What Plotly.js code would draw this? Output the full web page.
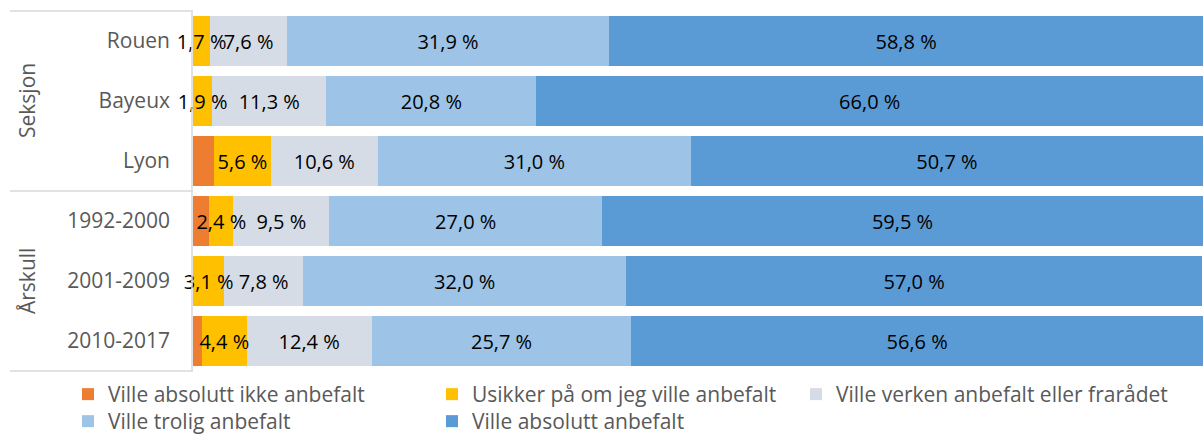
<!DOCTYPE html>
<html><head><meta charset="utf-8">
<script src="https://cdn.plot.ly/plotly-3.0.1.min.js"></script>
<style>body{margin:0;background:#fff}#chart{width:1203px;height:439px}</style>
</head><body><div id="chart"></div>
<script>
const categories = ['Rouen', 'Bayeux', 'Lyon', '1992-2000', '2001-2009', '2010-2017'];
const groupLabels = ['Seksjon', 'Årskull'];
const seriesNames = ['Ville absolutt ikke anbefalt', 'Usikker på om jeg ville anbefalt', 'Ville verken anbefalt eller frarådet', 'Ville trolig anbefalt', 'Ville absolutt anbefalt'];
const absoluttIkke = [0, 0, 2.1, 1.6, 0, 0.9];
const usikker = [1.7, 1.9, 5.6, 2.4, 3.1, 4.4];
const verken = [7.6, 11.3, 10.6, 9.5, 7.8, 12.4];
const trolig = [31.9, 20.8, 31.0, 27.0, 32.0, 25.7];
const absolutt = [58.8, 66.0, 50.7, 59.5, 57.0, 56.6];

const colors = ['#ED7D31', '#FFC000', '#D6DCE5', '#9DC3E6', '#5B9BD5'];
const seriesValues = [absoluttIkke, usikker, verken, trolig, absolutt];
const showLabels = [false, true, true, true, true];
const legendOf = ['legend', 'legend', 'legend', 'legend2', 'legend2'];
const legendWidths = [319, 319, 360, 319, 319];
const FONT = '"Open Sans", "Liberation Sans", sans-serif';
const W = 1203, H = 439, L = 193, T = 11, B = 68;
const PH = H - T - B;

const fmt = v => v.toFixed(1).replace('.', ',') + ' %';

const barTraces = seriesValues.map((vals, i) => ({
  type: 'bar', orientation: 'h', name: seriesNames[i],
  y: categories, x: vals,
  marker: {color: colors[i]},
  legend: legendOf[i], legendwidth: legendWidths[i],
  hoverinfo: 'none'
}));

// transparent overlay traces carrying the labels so they sit above every segment
const labelTraces = seriesValues.map((vals, i) => ({
  type: 'bar', orientation: 'h', name: seriesNames[i],
  y: categories, x: vals, xaxis: 'x2', yaxis: 'y',
  marker: {color: 'rgba(0,0,0,0)'},
  text: showLabels[i] ? vals.map(fmt) : vals.map(() => ''),
  textposition: 'inside', insidetextanchor: 'middle',
  textangle: 0, constraintext: 'none',
  textfont: {color: '#000000', size: 20, family: FONT},
  showlegend: false, hoverinfo: 'none', cliponaxis: false
}));

const px = x => x / W;
const py = y => 1 - (y - T) / PH;
const lineStyle = {color: '#D9D9D9', width: 1.5};
const legendCommon = {
  orientation: 'h', xanchor: 'left', yanchor: 'top',
  entrywidthmode: 'pixels', itemwidth: 30, traceorder: 'normal',
  bgcolor: 'rgba(0,0,0,0)',
  font: {size: 21, color: '#595959', family: FONT}
};

const layout = {
  width: W, height: H,
  margin: {l: 0, r: 0, t: T, b: B, autoexpand: false},
  paper_bgcolor: '#ffffff', plot_bgcolor: '#ffffff',
  font: {family: FONT, color: '#595959'},
  barmode: 'stack', bargap: 1/6,
  xaxis: {domain: [L / W, 1], range: [0, 100], visible: false, fixedrange: true},
  xaxis2: {overlaying: 'x', range: [0, 100], visible: false, fixedrange: true},
  yaxis: {
    autorange: 'reversed', type: 'category',
    tickfont: {size: 21, color: '#595959', family: FONT},
    ticks: '', ticklabelstandoff: 22, showline: false, showgrid: false, zeroline: false
  },
  showlegend: true,
  legend: Object.assign({}, legendCommon, {x: px(68), y: py(374)}),
  legend2: Object.assign({}, legendCommon, {x: px(68), y: py(401)}),
  shapes: [
    {type: 'line', xref: 'paper', yref: 'paper', x0: px(10), x1: px(193), y0: py(11), y1: py(11), line: lineStyle},
    {type: 'line', xref: 'paper', yref: 'paper', x0: px(10), x1: px(193), y0: py(191), y1: py(191), line: lineStyle},
    {type: 'line', xref: 'paper', yref: 'paper', x0: px(10), x1: px(193), y0: py(371), y1: py(371), line: lineStyle},
    {type: 'line', xref: 'paper', yref: 'paper', x0: px(192), x1: px(192), y0: py(11), y1: py(371), line: lineStyle}
  ],
  annotations: [
    {text: groupLabels[0], xref: 'paper', yref: 'paper', x: px(27), y: py(101), xanchor: 'center', yanchor: 'middle', textangle: -90, showarrow: false, font: {size: 21, color: '#595959', family: FONT}},
    {text: groupLabels[1], xref: 'paper', yref: 'paper', x: px(27), y: py(281), xanchor: 'center', yanchor: 'middle', textangle: -90, showarrow: false, font: {size: 21, color: '#595959', family: FONT}}
  ]
};

Plotly.newPlot('chart', barTraces.concat(labelTraces), layout, {displayModeBar: false, staticPlot: true});
</script>
</body></html>
